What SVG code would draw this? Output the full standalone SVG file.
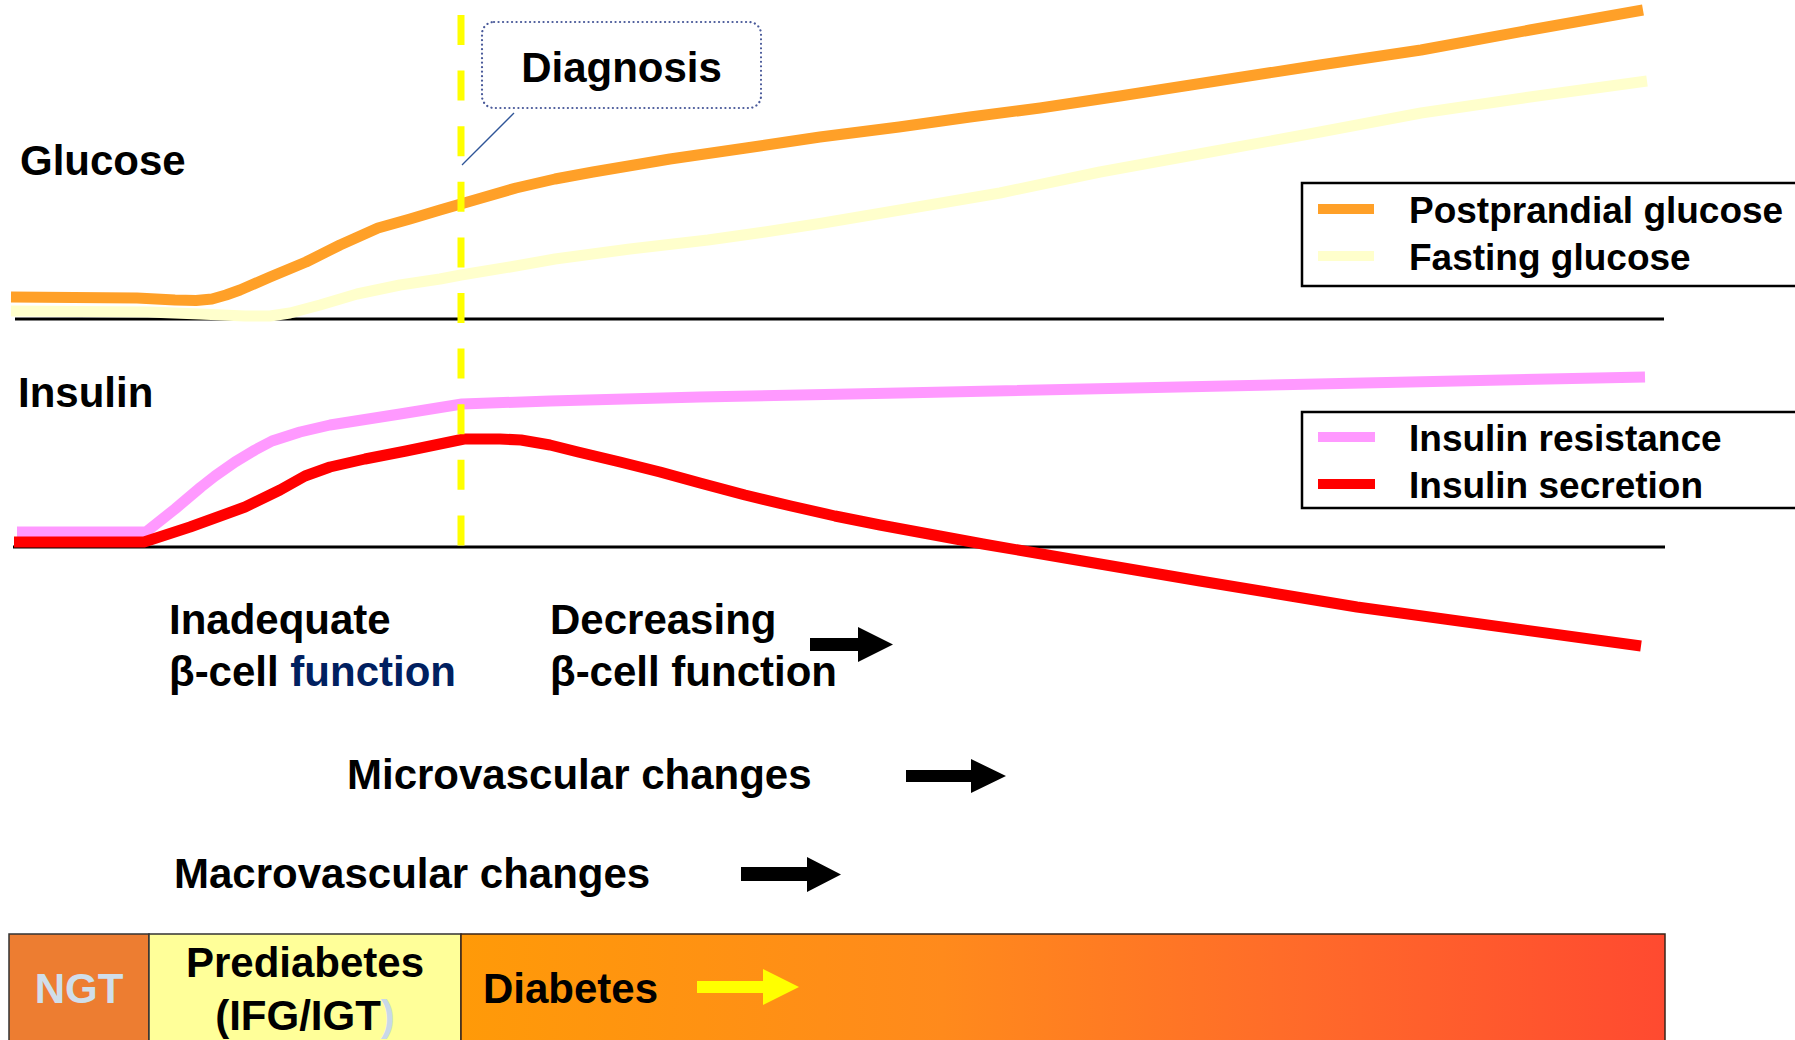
<svg xmlns="http://www.w3.org/2000/svg" width="1795" height="1040" viewBox="0 0 1795 1040">
<style>
text{font-family:"Liberation Sans",Arial,sans-serif;font-weight:bold;fill:#000}
.t42{font-size:42px}
.t37{font-size:37px}
.curve{fill:none;stroke-width:11;stroke-linejoin:round;stroke-linecap:butt}
.axis{stroke:#000;stroke-width:3.2;fill:none}
.legend{fill:#fff;stroke:#000;stroke-width:2.5}
.arrow{fill:#000}
.cell{stroke:#333;stroke-width:1.5}
</style>
<defs>
<linearGradient id="diab" x1="0" y1="0" x2="1" y2="0">
<stop offset="0" stop-color="#FF9A08"/>
<stop offset="0.4" stop-color="#FF8A1C"/>
<stop offset="0.7" stop-color="#FF6A2A"/>
<stop offset="1" stop-color="#FF4A30"/>
</linearGradient>
</defs>
<rect width="1795" height="1040" fill="#fff"/>

<g id="axes">
<line class="axis" x1="15" y1="319" x2="1664" y2="319"/>
<line class="axis" x1="13" y1="547" x2="1665" y2="547"/>
</g>

<g id="curves">
<path class="curve" stroke="#FFFFCC" d="M11,311 L148,312 L200,314 L245,316 L270,316 L290,313 L320,305 L357,294 L400,285 L440,279 L461,275 L510,267 L555,259 L630,249 L708,240 L765,232 L823,223 L900,210 L1000,193 L1100,172 L1210,152 L1320,132 L1421,113 L1530,97 L1647,81"/>
<path class="curve" stroke="#FFA028" d="M11,297 L137,298 L175,300 L196,300.5 L212,299 L226,295 L240,290 L270,277 L306,262 L340,245 L378,228 L410,219 L440,210 L478,199 L516,188 L555,179 L593,172 L670,159 L746,148 L820,137 L899,127 L970,117 L1040,108 L1120,96 L1210,82 L1320,65 L1421,50 L1530,30 L1643,10"/>
<path class="curve" stroke="#FF99FF" d="M17,532 L146,532 L175,509 L201,487 L215,476 L235,462 L255,450 L272,441 L300,432 L330,425 L400,414 L462,404 L550,401 L700,397 L900,393 L1645,377"/>
<path class="curve" stroke="#FF0000" d="M14,542 L144,542 L190,527 L245,507 L280,490 L305,476 L330,467 L365,459 L406,451 L464,439 L500,439 L521,440 L550,445 L578,452 L620,462 L660,472 L700,483 L745,495 L791,506 L835,516 L880,525 L983,544 L1100,564 L1200,581 L1357,607 L1641,646"/>
</g>

<g id="diagnosis-line">
<line x1="461" y1="15" x2="461" y2="546" stroke="#FFFF00" stroke-width="7" stroke-dasharray="30 25.6"/>
</g>

<g id="diagnosis">
<rect x="482" y="22" width="279" height="86" rx="12" fill="#fff" stroke="#4A5A9A" stroke-width="2.2" stroke-dasharray="0.1 4.4" stroke-linecap="round"/>
<line x1="514" y1="113" x2="462" y2="165" stroke="#2F5597" stroke-width="1.3"/>
<text class="t42" x="621.5" y="82" text-anchor="middle">Diagnosis</text>
</g>

<g id="label-glucose"><text class="t42" x="20" y="175">Glucose</text></g>
<g id="label-insulin"><text class="t42" x="18" y="407">Insulin</text></g>

<g id="legend-glucose">
<rect class="legend" x="1302" y="183" width="510" height="103"/>
<line x1="1318" y1="209" x2="1374" y2="209" stroke="#FFA028" stroke-width="10"/>
<line x1="1318" y1="256" x2="1374" y2="256" stroke="#FFFFCC" stroke-width="10"/>
<text class="t37" x="1409" y="223">Postprandial glucose</text>
<text class="t37" x="1409" y="270">Fasting glucose</text>
</g>

<g id="legend-insulin">
<rect class="legend" x="1302" y="412" width="510" height="96"/>
<line x1="1318" y1="437" x2="1375" y2="437" stroke="#FF99FF" stroke-width="10"/>
<line x1="1318" y1="484" x2="1375" y2="484" stroke="#FF0000" stroke-width="10"/>
<text class="t37" x="1409" y="451">Insulin resistance</text>
<text class="t37" x="1409" y="498">Insulin secretion</text>
</g>

<g id="inadequate">
<text class="t42" x="169" y="634">Inadequate</text>
<text class="t42" x="169" y="686">β-cell <tspan style="fill:#002060">function</tspan></text>
</g>

<g id="decreasing">
<text class="t42" x="550" y="634">Decreasing</text>
<text class="t42" x="550" y="686">β-cell function</text>
</g>

<g id="microvascular"><text class="t42" x="347" y="789">Microvascular changes</text></g>
<g id="macrovascular"><text class="t42" x="174" y="888">Macrovascular changes</text></g>

<g id="stage-ngt">
<rect class="cell" x="9" y="934" width="140" height="108" fill="#ED7D31"/>
<text class="t42" x="79" y="1003" text-anchor="middle" style="fill:#D0DEEA">NGT</text>
</g>
<g id="stage-prediabetes">
<rect class="cell" x="149" y="934" width="312" height="108" fill="#FFFF99"/>
<text class="t42" x="305" y="977" text-anchor="middle">Prediabetes</text>
<text class="t42" x="305" y="1030" text-anchor="middle">(IFG/IGT<tspan style="fill:#C8D8E8">)</tspan></text>
</g>
<g id="stage-diabetes">
<rect x="461" y="934" width="1204" height="108" fill="url(#diab)" stroke="#3A2418" stroke-width="1.5"/>
<text class="t42" x="483" y="1003">Diabetes</text>
</g>

<g id="connectors">
<polygon class="arrow" points="810,638 858,638 858,627 893,644.5 858,662 858,651 810,651"/>
<polygon class="arrow" points="906,770 971,770 971,759 1006,776 971,793 971,782 906,782"/>
<polygon class="arrow" points="741,867 807,867 807,857 841,874.5 807,892 807,881 741,881"/>
<polygon fill="#FFFF00" points="697,981 763,981 763,969 799,987 763,1005 763,993 697,993"/>
</g>
</svg>
